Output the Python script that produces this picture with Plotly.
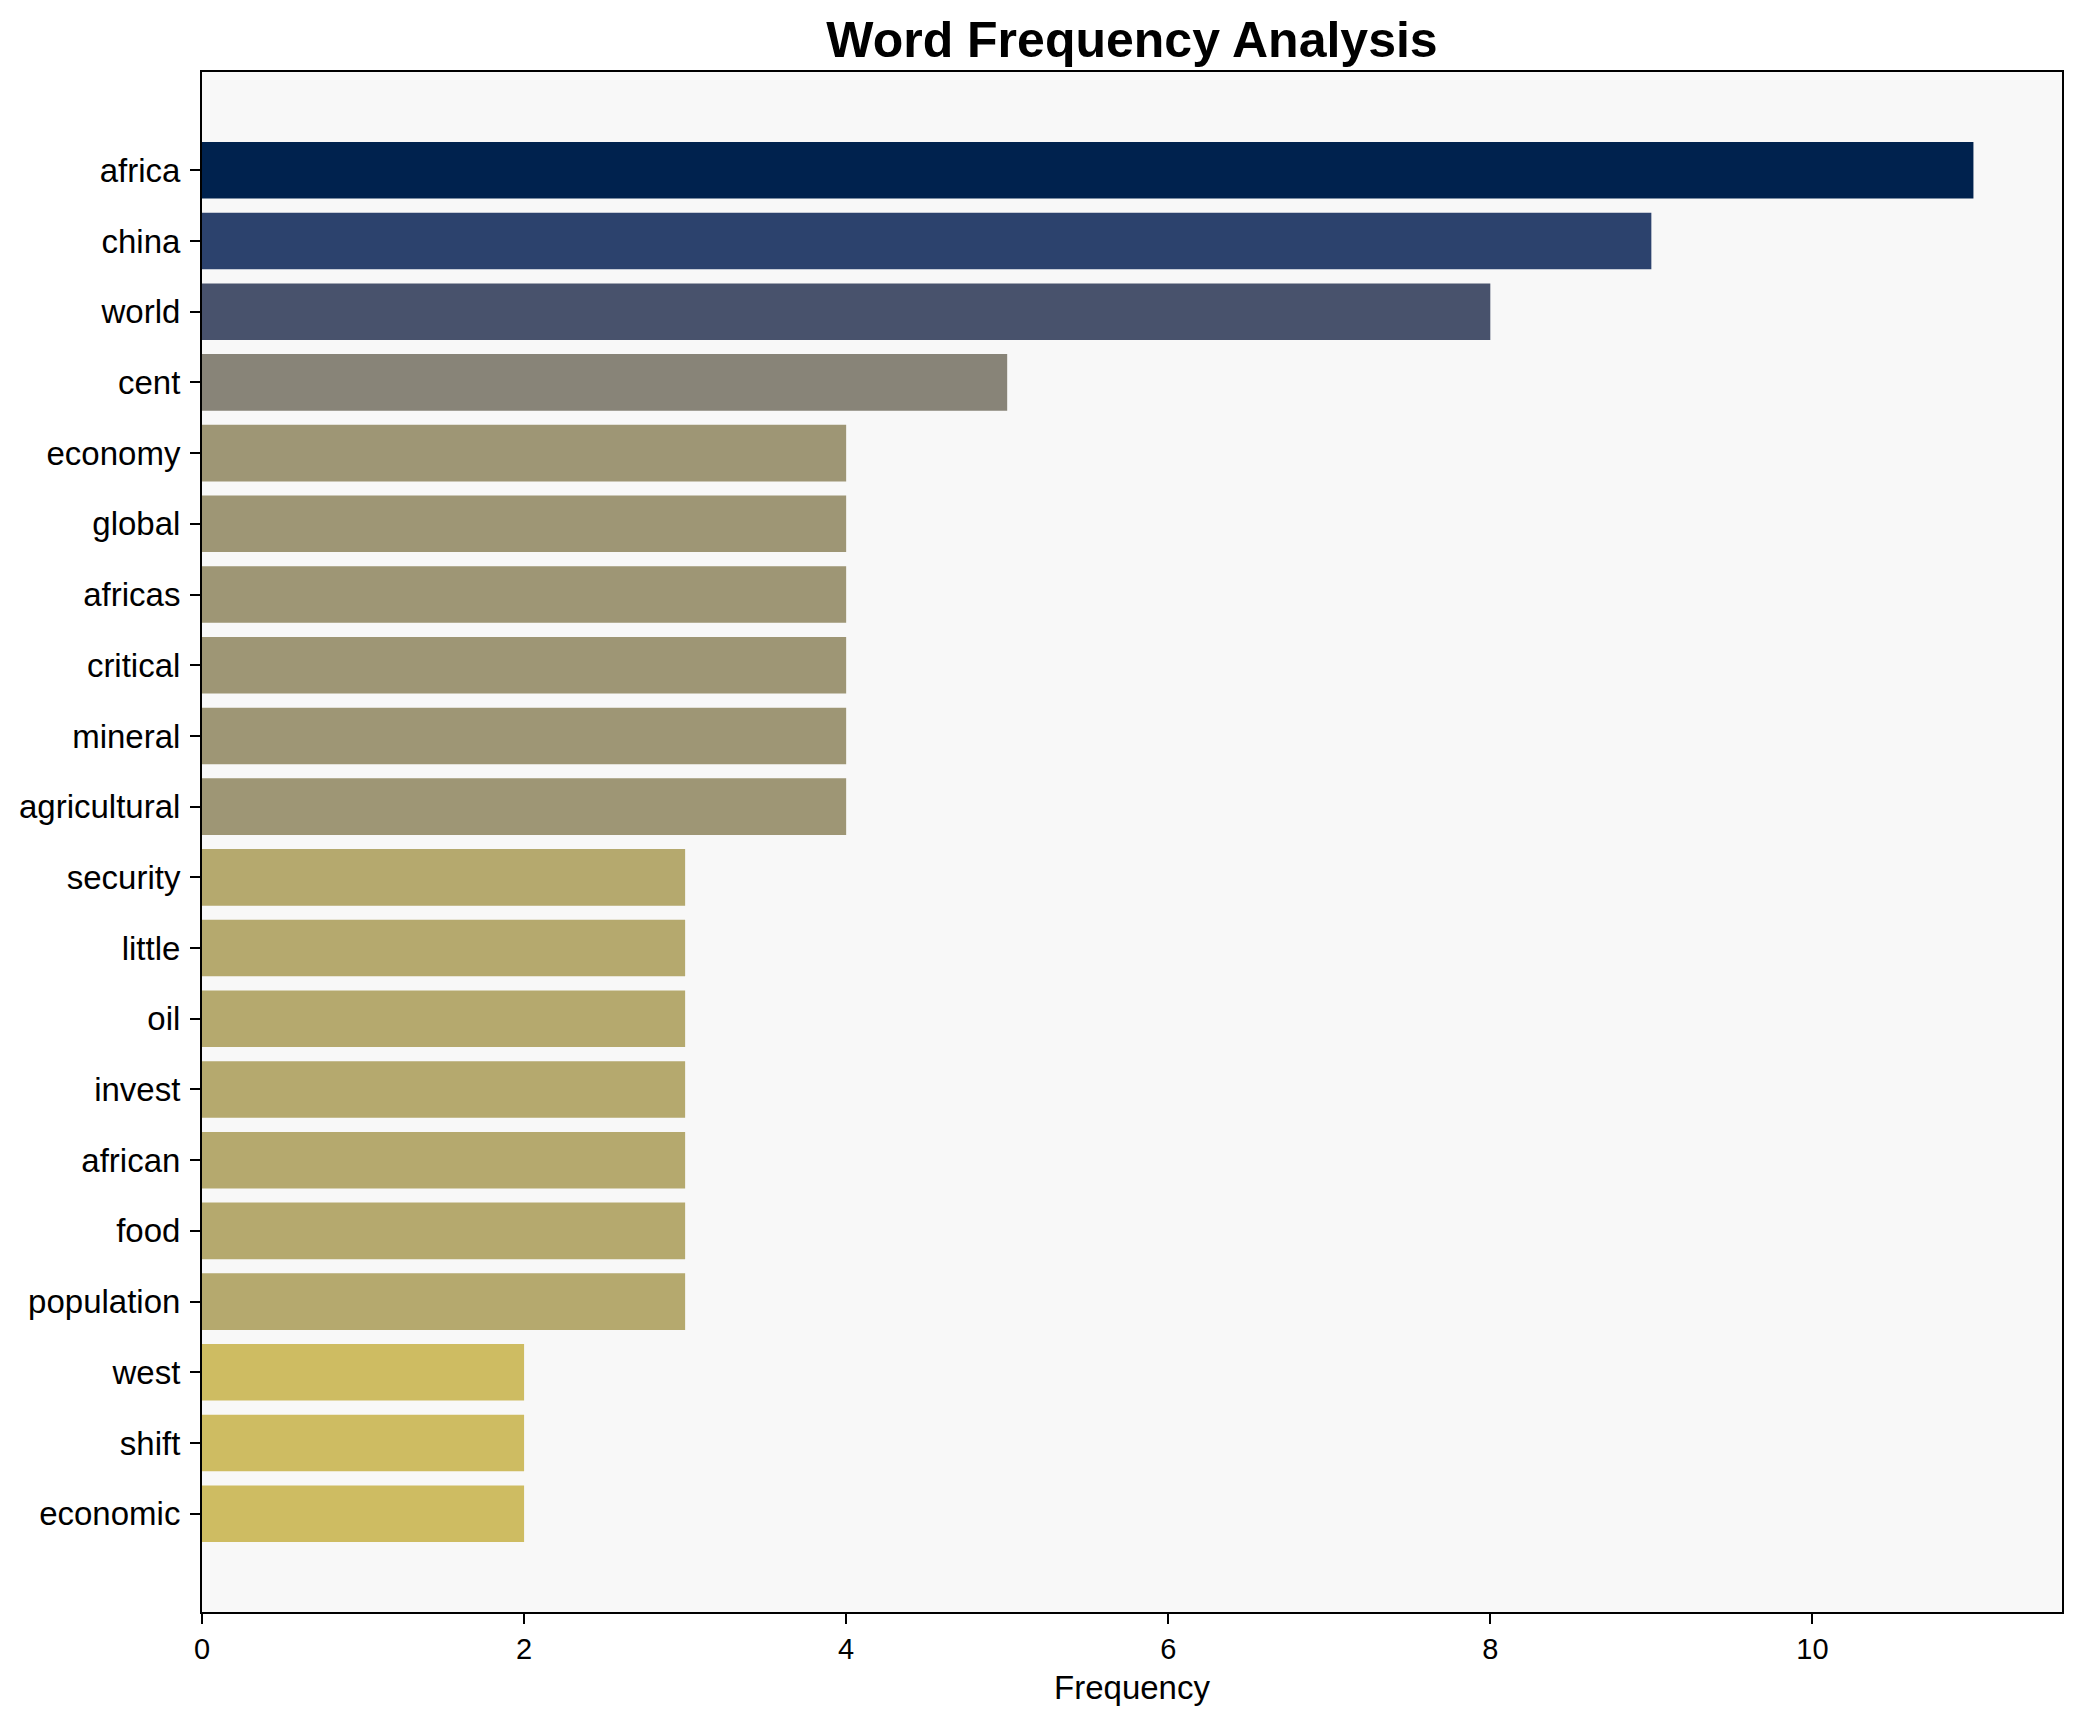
import plotly.graph_objects as go
from plotly.colors import sample_colorscale

words = ["africa", "china", "world", "cent", "economy", "global", "africas",
         "critical", "mineral", "agricultural", "security", "little", "oil",
         "invest", "african", "food", "population", "west", "shift", "economic"]
counts = [11, 9, 8, 5, 4, 4, 4, 4, 4, 4, 3, 3, 3, 3, 3, 3, 3, 2, 2, 2]
x_ticks = [0, 2, 4, 6, 8, 10]

vmax = max(counts)
colors = sample_colorscale("Cividis", [1 - v / vmax for v in counts])

FONT = "Liberation Sans, Arial, sans-serif"
W, H = 2074, 1714

fig = go.Figure(go.Bar(
    x=counts, y=words, orientation="h",
    marker=dict(color=colors, line=dict(width=0)),
    hoverinfo="x+y",
))

n = len(words)
fig.update_layout(
    width=W, height=H,
    margin=dict(l=194, r=20, t=64, b=110, autoexpand=False),
    paper_bgcolor="white", plot_bgcolor="#f8f8f8",
    bargap=0.2,
    showlegend=False,
    font=dict(family=FONT, size=33, color="black"),
    title=dict(text="Word Frequency Analysis", x=0.5, xref="paper",
               xanchor="center", yref="container", y=1 - 31 / H, yanchor="middle",
               font=dict(family=FONT, size=50, color="black", weight="bold")),
)
fig.update_xaxes(
    range=[0, vmax * 1.05], tickvals=x_ticks, ticks="outside", ticklen=10, tickwidth=2,
    tickcolor="black", showline=True, linecolor="black", linewidth=2, mirror=True,
    showgrid=False, zeroline=False, tickfont=dict(size=29),
    title=dict(text="Frequency", standoff=12, font=dict(size=33)),
)
fig.update_yaxes(
    range=[n - 1 + 0.4 + 0.05 * (n - 0.2), -0.4 - 0.05 * (n - 0.2)],
    ticks="outside", ticklen=10, tickwidth=2, tickcolor="black",
    showline=True, linecolor="black", linewidth=2, mirror=True,
    showgrid=False, zeroline=False, tickfont=dict(size=33), ticklabelstandoff=3,
)

fig.write_html("out.html")
